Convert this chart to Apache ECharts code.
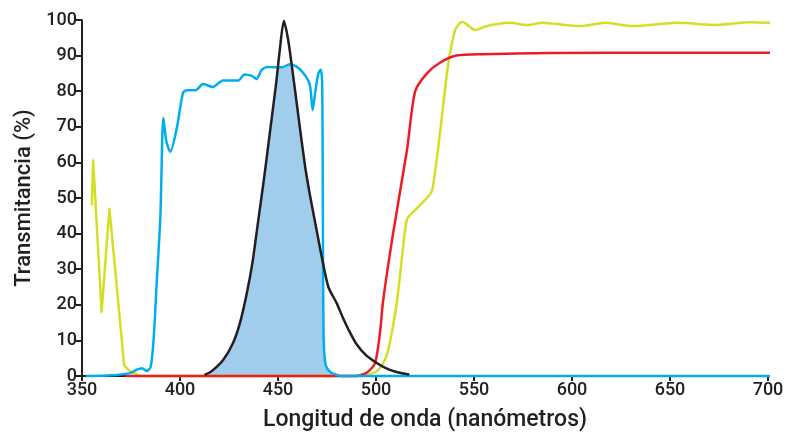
<!DOCTYPE html>
<html>
<head>
<meta charset="utf-8">
<script src="https://cdn.jsdelivr.net/npm/echarts@6/dist/echarts.min.js"></script>
<style>
  html, body { margin: 0; padding: 0; background: #fff; }
  #main { width: 793px; height: 436px; }
</style>
</head>
<body>
<div id="main"></div>
<script>
// wavelength (nm), transmittance (%)
var yellowLeft = [[355, 48], [355.7, 60.5], [360, 18], [364, 47], [371.5, 3], [374, 1.6], [377, 0.6], [380, 0]];
var yellowRight = [[380, 0], [490, 0],
    [495.4, 0.3], [500, 1.2], [503, 3], [505.6, 6], [508, 12], [510.7, 21], [513, 32], [515.8, 44], [520, 46.6],
    [527.5, 51], [529, 53], [532.6, 68], [536.7, 87], [540.3, 97], [543.9, 99.5], [547, 98.5], [550.5, 97.2],
    [556.6, 98.3], [568, 99.2], [577, 98.6], [585, 99.2], [590, 99], [604, 98.3], [617, 99.2], [631, 98.3],
    [653.6, 99.2], [674, 98.6], [690.8, 99.4], [702.5, 99.2]];

var redData = [[372, 0], [490, 0], [495.4, 1], [499.5, 3.6], [502, 12], [503.6, 21], [508.7, 40], [515.8, 63.5],
    [520, 80], [526, 85], [532.6, 88], [541, 90], [554.6, 90.4], [588.8, 90.7], [650, 90.8], [704, 90.8]];

var blueData = [[352, 0], [365, 0.2], [374.5, 0.8], [378, 1.8], [380.6, 2.2], [383, 1.4], [385, 2.5], [386.5, 10],
    [388, 25], [390, 45], [391.5, 72.5], [393, 66], [395, 63], [398.5, 70], [401.5, 79.5], [403.5, 80.3], [408, 80.3],
    [411.7, 82], [416.8, 81.2], [421.9, 83], [429.6, 83], [433, 84.7], [436.7, 84.3], [439, 83.4], [441.7, 86],
    [445, 86.8], [452, 86.7], [456, 87.6], [459.5, 86.9], [463.8, 84.5], [466.3, 81.7], [467.7, 74.7], [469, 79.8],
    [470.6, 85], [471.8, 86], [472.5, 83], [472.8, 60], [473, 30], [473.3, 10], [474, 4], [475, 2.2], [477, 1],
    [480, 0.3], [482, 0], [704, 0]];

var blackData = [[412.5, 0.3], [416, 1.3], [422, 4.5], [427, 9.2], [430.6, 14.9], [434, 23], [437, 32], [440, 44],
    [443, 56], [446, 69], [449, 82], [451, 92], [453, 99.7], [455, 95], [457, 87.4], [460.4, 73], [463.8, 59],
    [466.3, 50.8], [469, 43], [472.3, 33.5], [475.7, 25], [480, 20.4], [483, 16.5], [486, 13], [490, 9],
    [495, 5.8], [500, 3.8], [505, 2.2], [510, 1.2], [517, 0.4]];

// shaded overlap area
var fillData = [[412.5, 0.3], [416, 1.3], [422, 4.5], [427, 9.2], [430.6, 14.9], [434, 23], [437, 32], [440, 44],
    [443, 56], [446, 69], [449, 82], [449.9, 86.7], [452, 86.7], [456, 87.6], [457.3, 87.2], [460.4, 73],
    [463.8, 59], [466.3, 50.8], [469, 43], [472.4, 33.5], [472.8, 30], [473.3, 10], [474, 4], [475, 2.2],
    [477, 1], [480, 0.3], [482, 0]];

var xTitle = 'Longitud de onda (nanómetros)';
var yTitle = 'Transmitancia (%)';

var ink = '#231f20';
var font = 'Roboto';

var myChart = echarts.init(document.getElementById('main'));

function line(data, color, width, z, smooth) {
    return {
        type: 'line',
        data: data,
        showSymbol: false,
        smooth: smooth === undefined ? 0.25 : smooth,
        clip: false,
        z: z,
        lineStyle: { color: color, width: width, join: 'round' },
        itemStyle: { color: color }
    };
}

var fillSeries = line(fillData, '#a1cdec', 0, 1);
fillSeries.areaStyle = { color: '#a1cdec', opacity: 1 };

var option = {
    animation: false,
    grid: { left: 82, right: 25, top: 20, bottom: 60, outerBoundsMode: 'none' },
    xAxis: {
        type: 'value',
        min: 350,
        max: 700,
        interval: 50,
        name: xTitle,
        nameLocation: 'middle',
        nameGap: 33,
        nameTextStyle: { color: ink, fontSize: 23, fontFamily: font, fontWeight: 500 },
        splitLine: { show: false },
        axisLine: { lineStyle: { color: ink, width: 2 } },
        axisTick: { lineStyle: { color: ink, width: 2 }, length: 5 },
        axisLabel: { color: ink, fontSize: 18, fontFamily: font, fontWeight: 500, margin: 5 }
    },
    yAxis: {
        type: 'value',
        min: 0,
        max: 100,
        interval: 10,
        name: yTitle,
        nameLocation: 'middle',
        nameGap: 43,
        nameTextStyle: { color: ink, fontSize: 22, fontFamily: font, fontWeight: 500 },
        splitLine: { show: false },
        axisLine: { show: true, lineStyle: { color: ink, width: 2 } },
        axisTick: { show: true, lineStyle: { color: ink, width: 2 }, length: 6 },
        axisLabel: { color: ink, fontSize: 18, fontFamily: font, fontWeight: 500, margin: 5 }
    },
    series: [
        fillSeries,
        line(yellowLeft, '#d3df24', 2.5, 2, false),
        line(yellowRight, '#d3df24', 2.5, 2),
        line(redData, '#ed1c24', 2.5, 3),
        line(blueData, '#00aeef', 2.5, 4),
        line(blackData, ink, 2.5, 5)
    ]
};

myChart.setOption(option);
</script>
</body>
</html>
